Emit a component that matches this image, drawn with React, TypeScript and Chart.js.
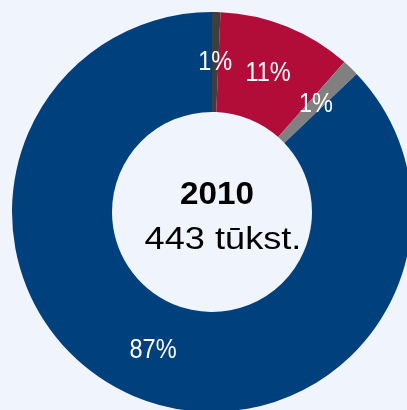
import React, { useEffect, useRef } from "react";
import { Chart, registerables } from "chart.js";

Chart.register(...registerables);

const categories = ["A", "B", "C", "D"];
const values = [3, 48, 6, 386];
const colors = ["#3f3f3f", "#b20c38", "#808080", "#00407d"];
const centerYear = "2010";
const centerTotal = "443 tūkst.";
const BG = "#f0f4fc";

function drawScaled(ctx: any, text: string, x: number, y: number, sx: number) {
  ctx.save();
  ctx.translate(x, y);
  ctx.scale(sx, 1);
  ctx.fillText(text, 0, 0);
  ctx.restore();
}

const labelPlugin = {
  id: "sliceLabels",
  afterDatasetsDraw(chart: any) {
    const ctx = chart.ctx;
    const meta = chart.getDatasetMeta(0);
    const data = chart.data.datasets[0].data as number[];
    const total = data.reduce((a, b) => a + b, 0);
    ctx.save();
    ctx.fillStyle = "#ffffff";
    ctx.font = "28px 'Liberation Sans', Arial, sans-serif";
    ctx.textAlign = "center";
    ctx.textBaseline = "middle";
    meta.data.forEach((arc: any, i: number) => {
      const p = arc.getCenterPoint();
      const pct = Math.max(1, Math.round((data[i] / total) * 100));
      drawScaled(ctx, pct + "%", p.x, p.y, 0.84);
    });
    const a = meta.data[0];
    const cx = a.x;
    const cy = a.y;
    ctx.fillStyle = "#000000";
    ctx.font = "bold 32px 'Liberation Sans', Arial, sans-serif";
    drawScaled(ctx, centerYear, cx + 5, cy - 17, 1.04);
    ctx.font = "32px 'Liberation Sans', Arial, sans-serif";
    drawScaled(ctx, centerTotal, cx + 11, cy + 28, 1.13);
    ctx.restore();
  },
};

export default function App() {
  const ref = useRef<HTMLCanvasElement>(null);
  useEffect(() => {
    document.body.style.margin = "0";
    document.body.style.overflow = "hidden";
    const chart = new Chart(ref.current!, {
      type: "doughnut",
      data: {
        labels: categories,
        datasets: [
          {
            data: values,
            backgroundColor: colors,
            borderWidth: 0,
          },
        ],
      },
      options: {
        animation: false,
        responsive: false,
        cutout: "50%",
        layout: { padding: 12 },
        plugins: {
          legend: { display: false },
          tooltip: { enabled: false },
        },
      },
      plugins: [labelPlugin],
    });
    return () => chart.destroy();
  }, []);
  return (
    <div
      style={{
        position: "fixed",
        left: 0,
        top: 0,
        width: 407,
        height: 410,
        overflow: "hidden",
        background: BG,
      }}
    >
      <canvas ref={ref} width={424} height={424} style={{ width: 424, height: 424, display: "block" }} />
    </div>
  );
}
